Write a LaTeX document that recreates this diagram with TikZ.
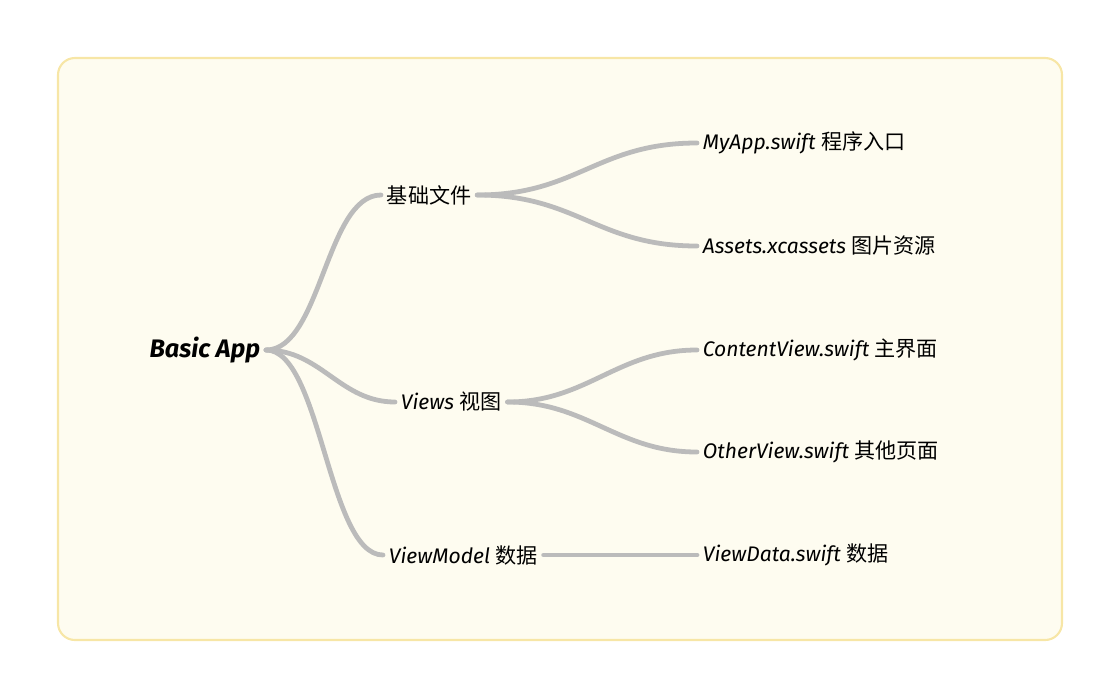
\documentclass[tikz,border=0pt]{standalone}
\usepackage{fontspec}
\setmainfont{Fira Sans}
\newfontfamily\cjk{Noto Sans CJK SC}
\definecolor{paper}{HTML}{FEFCF0}
\definecolor{rim}{HTML}{F7E6A6}
\definecolor{branch}{HTML}{BBBBBB}
\tikzset{
  link/.style={draw=branch, line width=3.4pt, line cap=round},
  item/.style={inner sep=4pt, font=\fontsize{15}{18}\selectfont\itshape},
}
\begin{document}
\begin{tikzpicture}[x=0.025cm, y=-0.025cm]
\useasboundingbox (0,0) rectangle (1120,699);
%FRAME
\draw[rim, fill=paper, line width=1.5pt, rounded corners=12pt] (58,58) rectangle (1062,640);

%ROOT AND BRANCHES
\node[item, font=\fontsize{18}{21}\selectfont\bfseries\itshape, anchor=east] (app) at (266,350) {Basic App};
\node[item, anchor=west] (base) at (381,195) {\cjk 基础文件};
\node[item, anchor=west] (views) at (395,402) {Views {\cjk\upshape 视图}};
\node[item, anchor=west] (model) at (383,555) {ViewModel {\cjk\upshape 数据}};

%LEAVES
\node[item, anchor=west] (main) at (697,143) {MyApp.swift {\cjk\upshape 程序入口}};
\node[item, anchor=west] (assets) at (697,246) {Assets.xcassets {\cjk\upshape 图片资源}};
\node[item, anchor=west] (content) at (697,350) {ContentView.swift {\cjk\upshape 主界面}};
\node[item, anchor=west] (other) at (697,452) {OtherView.swift {\cjk\upshape 其他页面}};
\node[item, anchor=west] (data) at (697,555) {ViewData.swift {\cjk\upshape 数据}};

%CONNECTORS
\draw[link] (app.east) .. controls +(55,0) and +(-55,0) .. (base.west);
\draw[link] (app.east) .. controls +(55,0) and +(-55,0) .. (views.west);
\draw[link] (app.east) .. controls +(55,0) and +(-55,0) .. (model.west);
\draw[link] (base.east) .. controls +(100,0) and +(-100,0) .. (main.west);
\draw[link] (base.east) .. controls +(100,0) and +(-100,0) .. (assets.west);
\draw[link] (views.east) .. controls +(80,0) and +(-80,0) .. (content.west);
\draw[link] (views.east) .. controls +(80,0) and +(-80,0) .. (other.west);
\draw[link] (model.east) -- (data.west);
\end{tikzpicture}
\end{document}
